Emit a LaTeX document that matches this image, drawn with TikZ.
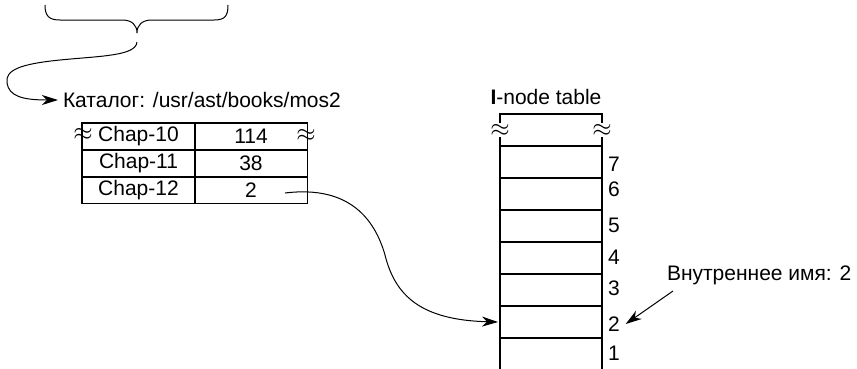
\documentclass[tikz,border=0pt]{standalone}
\usepackage{fontspec}
\setmainfont{Liberation Sans}
\usetikzlibrary{arrows.meta}
\begin{document}
\begin{tikzpicture}[x=1pt,y=-1pt, line width=1.1pt,
  txt/.style={font=\fontsize{21}{25}\selectfont, inner sep=0pt, outer sep=0pt},
  dcell/.style={draw, minimum width=113pt, minimum height=27pt, inner sep=0pt, outer sep=0pt, font=\fontsize{21}{25}\selectfont},
  icell/.style={draw, minimum width=102pt, minimum height=32pt, inner sep=0pt, outer sep=0pt},
  wavy/.style={font=\fontsize{24}{28}\selectfont, inner sep=0pt, outer sep=0pt},
  arr/.style={-{Stealth[length=16pt,width=10pt,inset=5pt]}, line width=1pt},
]
\useasboundingbox (0,0) rectangle (857,368);

% brace
\draw[line width=1pt] (45,5) .. controls (45,16) and (49,20) .. (60,20) -- (122,20)
  .. controls (132,20) and (137,25) .. (137,33)
  .. controls (137,25) and (142,20) .. (152,20) -- (214,20)
  .. controls (225,20) and (228,16) .. (228,5);
\coordinate (bt) at (137,42);

% directory
\node[txt, anchor=west] (kat) at (63,100) {Каталог: /usr/ast/books/mos2};
\draw[arr, shorten >=5pt] (bt) .. controls (136,56) and (100,56) .. (60,60)
  .. controls (20,64) and (5,70) .. (7,83)
  .. controls (9,96) and (22,100) .. (kat.west);

\node[dcell] (c10) at (138.5,136.5) {Chap-10};
\node[dcell] (v10) at (251,136.5) {114};
\node[dcell] (c11) at (138.5,163.5) {Chap-11};
\node[dcell] (v11) at (251,163.5) {38};
\node[dcell] (c12) at (138.5,190) {Chap-12};
\node[dcell] (v12) at (251,190) {2};
\node[wavy] (w1) at (83,134) {$\approx$};
\node[wavy] (w2) at (306,135) {$\approx$};

% i-node table
\node[txt] (title) at (546,97) {{\bfseries I}-node table};
\foreach \k/\y in {7/162,6/194,5/226,4/258,3/290,2/322,1/354}{
  \node[icell] (i\k) at (551,\y) {};
}
\draw (i7.north west) -- ++(0,-9);
\draw (i7.north east) -- ++(0,-9);
\draw ([shift={(0,-23)}]i7.north west) -- ([shift={(0,-32)}]i7.north west)
  -- ([shift={(0,-32)}]i7.north east) -- ([shift={(0,-23)}]i7.north east);
\node[wavy] (w3) at (500,130) {$\approx$};
\node[wavy] (w4) at (602,130) {$\approx$};

\foreach \k/\y in {7/164,6/189,5/225,4/257,3/288,2/324,1/353}{
  \node[txt, anchor=west] (n\k) at (608,\y) {\k};
}

\node[txt, anchor=west] (iname) at (667,275) {Внутреннее имя: 2};
\draw[arr] ([shift={(6,16)}]iname.west) -- ([xshift=6pt]n2.east);

\draw[arr] ([shift={(34,3)}]v12.center) .. controls (350,185) and (375,220) .. (385,255)
  .. controls (395,295) and (420,320) .. ([xshift=-2pt]i2.west);
\end{tikzpicture}
\end{document}
